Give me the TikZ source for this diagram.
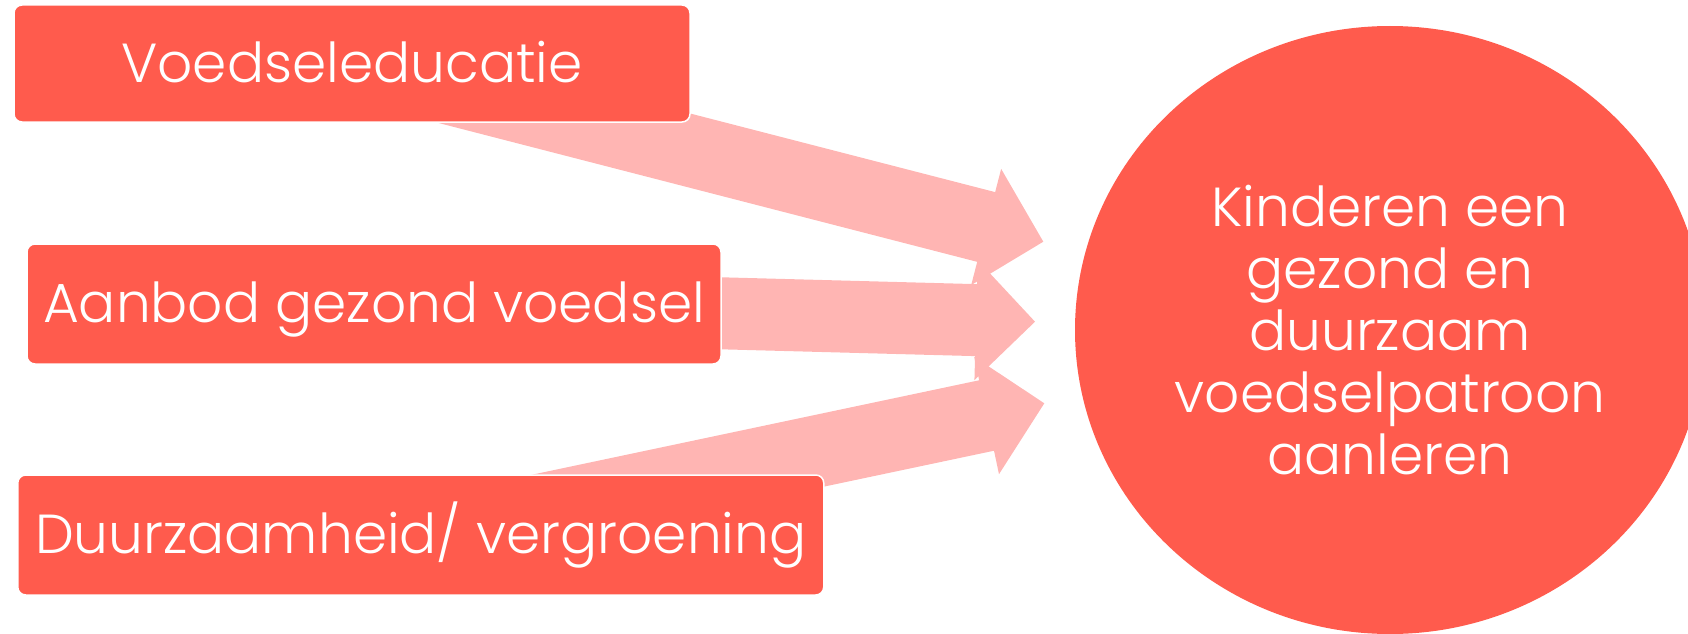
\documentclass[tikz,border=0pt]{standalone}
\usepackage{fontspec}
\setmainfont{Poppins}[UprightFont=* Light]
\usetikzlibrary{shapes.geometric,calc}
\definecolor{coral}{RGB}{255,91,77}
\definecolor{pinkarrow}{RGB}{255,181,179}
\pgfdeclarelayer{bg}
\pgfsetlayers{bg,main}
\newcommand\BlkArrow[3]{%
  \coordinate (#3h) at ($(#2)!59pt!(#1)$);
  \fill[arrowfill] ($(#1)!36pt!90:(#2)$) -- ($(#3h)!36pt!-90:(#1)$) -- ($(#3h)!60pt!-90:(#1)$) -- (#2)
    -- ($(#3h)!60pt!90:(#1)$) -- ($(#3h)!36pt!90:(#1)$) -- ($(#1)!36pt!-90:(#2)$) -- cycle;
}
\tikzset{
  srcbox/.style={rectangle, rounded corners=8pt, fill=coral, draw=white, line width=1.5pt,
    text=white, font=\fontsize{55}{62.2}\selectfont, text height=37pt, text depth=0pt, inner sep=0pt},
  goalbox/.style={ellipse, fill=coral, text=white, align=center, inner sep=0pt,
    minimum width=630pt, minimum height=608pt, font=\fontsize{55}{62.2}\selectfont},
  arrowfill/.style={fill=pinkarrow}
}
\begin{document}
\begin{tikzpicture}[x=1pt,y=-1pt]
\useasboundingbox (0,0) rectangle (1688,634);
\node[goalbox] (goal) at (1390,330) {Kinderen een\\gezond en\\duurzaam\\voedselpatroon\\aanleren};
\node[srcbox, minimum width=676pt, minimum height=117pt] (b1) at (352,63.5) {Voedseleducatie};
\node[srcbox, minimum width=694pt, minimum height=120pt] (b2) at (374,304) {Aanbod gezond voedsel};
\node[srcbox, minimum width=806pt, minimum height=120pt] (b3) at (420.75,535) {Duurzaamheid/ vergroening};
\coordinate (t1) at (1043.3,241.7);
\coordinate (t2) at (1035,321.7);
\coordinate (t3) at (1044.3,403.3);
\begin{pgfonlayer}{bg}
\BlkArrow{b1}{t1}{a1}
\BlkArrow{b3}{t3}{a3}
\BlkArrow{b2}{t2}{a2}
\end{pgfonlayer}
\end{tikzpicture}
\end{document}
